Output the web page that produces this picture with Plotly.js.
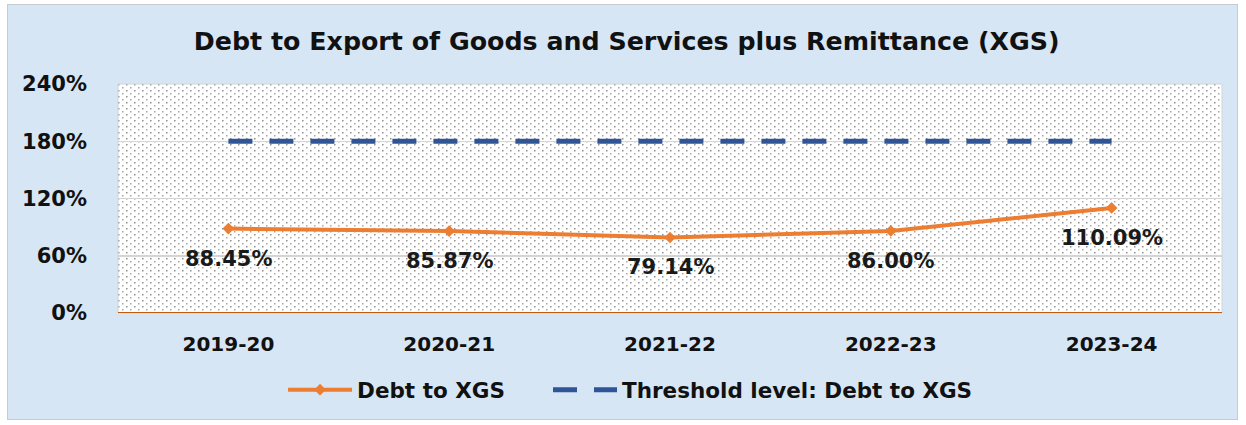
<!DOCTYPE html>
<html>
<head>
<meta charset="utf-8">
<script src="https://cdn.plot.ly/plotly-3.0.1.min.js"></script>
<style>
html,body{margin:0;padding:0;background:#ffffff;}
#wrap{position:absolute;left:7px;top:4px;width:1231px;height:416px;border:1px solid #c8ccd2;box-sizing:border-box;background:#d7e6f5;}
#chart{position:absolute;left:0;top:0;width:1246px;height:425px;}
</style>
</head>
<body>
<div id="wrap"></div>
<div id="chart"></div>
<script>
const years = ["2019-20", "2020-21", "2021-22", "2022-23", "2023-24"];
const debtToXGS = [88.45, 85.87, 79.14, 86.00, 110.09];
const threshold = [180, 180, 180, 180, 180];
const yTickVals = [0, 60, 120, 180, 240];
const yTickText = ["0%", "60%", "120%", "180%", "240%"];

const orange = "#ED7D31";
const blue = "#2F5597";
const FONT = "DejaVu Sans, sans-serif";

const dotsSvg = '<svg xmlns="http://www.w3.org/2000/svg" width="1104" height="229">' +
  '<defs><pattern id="p" width="8" height="6" patternUnits="userSpaceOnUse">' +
  '<rect x="0" y="0" width="1.5" height="1.5" fill="#8e8e8e"/>' +
  '<rect x="4" y="3" width="1.5" height="1.5" fill="#a8a8a8"/>' +
  '</pattern></defs><rect width="1104" height="229" fill="#ffffff"/>' +
  '<rect width="1104" height="229" fill="url(#p)"/></svg>';
const dotsUri = "data:image/svg+xml;base64," + btoa(dotsSvg);

const traces = [
  {
    x: years, y: debtToXGS, name: "Debt to XGS", type: "scatter", mode: "lines+markers",
    line: {color: orange, width: 4}, marker: {symbol: "diamond", size: 9, color: orange},
    hoverinfo: "skip", legend: "legend"
  },
  {
    x: years, y: threshold, name: "Threshold level: Debt to XGS", type: "scatter", mode: "lines",
    line: {color: blue, width: 5, dash: "24px,17px"}, hoverinfo: "skip", legend: "legend2"
  }
];

const annotations = years.map((yr, i) => ({
  x: yr, y: debtToXGS[i], xref: "x", yref: "y",
  text: debtToXGS[i].toFixed(2) + "%", showarrow: false, yshift: -30,
  font: {family: FONT, size: 21, color: "#1a1a1a", weight: "bold"}
}));

const legendFont = {family: FONT, size: 21.5, color: "#111111", weight: "bold"};

const layout = {
  width: 1246, height: 425,
  paper_bgcolor: "rgba(0,0,0,0)", plot_bgcolor: "rgba(0,0,0,0)",
  margin: {l: 118, r: 24, t: 84, b: 112},
  title: {text: "<b>Debt to Export of Goods and Services plus Remittance (XGS)</b>",
    x: 0.503, xanchor: "center", y: 0.903, yanchor: "middle",
    font: {family: FONT, size: 25.3, color: "#111111"}},
  xaxis: {
    type: "category", range: [-0.5, 4.5], showgrid: false, zeroline: false,
    showline: false, ticks: "", ticklabelstandoff: 17,
    tickfont: {family: FONT, size: 20, color: "#111111", weight: "bold"}
  },
  yaxis: {
    range: [0, 240], tickvals: yTickVals, ticktext: yTickText,
    showgrid: true, gridcolor: "#d4d4d4", gridwidth: 1.5, zeroline: false,
    showline: false, ticks: "", ticklabelstandoff: 30,
    tickfont: {family: FONT, size: 21, color: "#111111", weight: "bold"}
  },
  shapes: [
    {type: "line", xref: "paper", yref: "y", x0: 0, x1: 1, y0: 0, y1: 0,
     line: {color: "#C55A11", width: 2}},
    {type: "rect", xref: "paper", yref: "paper", x0: 0, x1: 1, y0: 0, y1: 1,
     line: {color: "#d0d4d8", width: 1}, layer: "below"}
  ],
  images: [{source: dotsUri, xref: "paper", yref: "paper", x: 0, y: 1, sizex: 1, sizey: 1,
    sizing: "stretch", layer: "below", xanchor: "left", yanchor: "top"}],
  annotations: annotations,
  showlegend: true,
  legend: {orientation: "h", x: 0.1495, xanchor: "left", y: -0.335, yanchor: "middle",
    itemwidth: 64, font: legendFont, bgcolor: "rgba(0,0,0,0)"},
  legend2: {orientation: "h", x: 0.3895, xanchor: "left", y: -0.335, yanchor: "middle",
    itemwidth: 64, font: legendFont, bgcolor: "rgba(0,0,0,0)"}
};

Plotly.newPlot("chart", traces, layout, {displayModeBar: false, staticPlot: true});
</script>
</body>
</html>
